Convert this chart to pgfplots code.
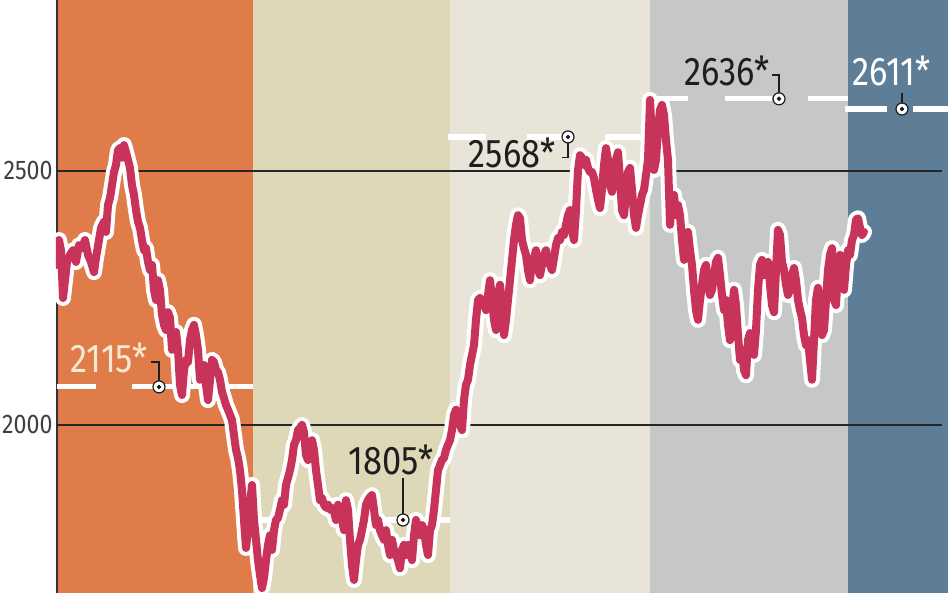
\documentclass[border=0pt]{standalone}
\usepackage{fontspec}
\setmainfont{Fira Sans}[FakeStretch=0.86]
\usepackage{pgfplots}
\usepackage{pgfplotstable}
\pgfplotsset{compat=1.18}
\definecolor{cOrange}{HTML}{E07B4A}
\definecolor{cTan}{HTML}{DED8B9}
\definecolor{cCream}{HTML}{E8E5D8}
\definecolor{cGrey}{HTML}{C5C8C7}
\definecolor{cBlue}{HTML}{5D7E96}
\definecolor{cRed}{HTML}{C8335A}
\definecolor{cLabel}{HTML}{F8E8D0}
\definecolor{cInk}{HTML}{1E1E1E}
\pgfplotstableread{
x v
57 2315
59 2364
61 2344
63 2250
65 2285
67 2321
70 2335
73 2344
76 2321
79 2354
82 2348
85 2364
88 2335
91 2321
94 2301
96 2329
99 2364
101 2388
104 2400
106 2380
108 2433
110 2447
112 2472
114 2498
116 2512
118 2541
120 2545
122 2526
124 2551
126 2537
128 2522
130 2506
132 2472
134 2453
136 2423
138 2400
140 2388
142 2364
144 2344
146 2348
148 2321
150 2305
152 2315
154 2266
156 2246
158 2285
160 2266
162 2217
164 2197
166 2187
168 2222
170 2211
172 2148
174 2167
176 2183
178 2148
180 2079
182 2059
184 2108
186 2128
188 2124
190 2167
192 2187
194 2197
196 2177
198 2148
200 2089
202 2104
204 2118
206 2079
208 2049
210 2089
212 2128
214 2124
216 2108
218 2104
220 2089
222 2065
224 2053
226 2039
228 2030
230 2020
232 2010
234 1980
236 1951
238 1935
240 1911
242 1872
244 1813
246 1758
248 1793
250 1843
252 1882
254 1813
256 1774
258 1734
260 1705
262 1679
264 1699
266 1734
268 1764
270 1783
272 1754
274 1793
276 1813
278 1817
280 1833
282 1852
284 1843
286 1882
288 1896
290 1911
292 1931
294 1961
296 1970
298 1990
300 1994
302 2000
304 1986
306 1941
308 1931
310 1955
312 1970
314 1951
316 1911
318 1882
320 1852
322 1856
324 1843
326 1837
328 1843
330 1833
332 1837
334 1829
336 1813
338 1843
340 1837
342 1813
344 1793
346 1852
348 1833
350 1774
352 1724
354 1695
356 1734
358 1764
360 1774
362 1793
364 1813
366 1843
368 1852
370 1858
372 1862
374 1833
376 1803
378 1813
380 1793
382 1783
384 1774
386 1793
388 1764
390 1744
392 1774
394 1754
396 1744
398 1734
400 1718
402 1754
404 1764
406 1744
408 1764
410 1754
412 1734
414 1783
416 1813
418 1793
420 1783
422 1803
424 1793
426 1764
428 1744
430 1793
432 1803
434 1833
436 1872
438 1911
440 1921
442 1931
444 1935
446 1951
448 1961
450 1970
452 1990
454 2020
456 2030
458 2014
460 2000
462 1990
464 2049
466 2079
468 2089
470 2118
472 2138
474 2157
476 2207
478 2246
480 2250
482 2236
484 2246
486 2226
488 2256
490 2285
492 2246
494 2207
496 2187
498 2256
500 2276
502 2226
504 2177
506 2207
508 2246
510 2285
512 2325
514 2364
516 2394
518 2413
520 2407
522 2364
524 2348
526 2335
528 2305
530 2285
532 2321
534 2329
536 2344
538 2305
540 2295
542 2315
544 2335
546 2344
548 2321
550 2315
552 2305
554 2329
556 2354
558 2368
560 2364
562 2380
564 2374
566 2394
568 2413
570 2423
572 2384
574 2364
576 2423
578 2502
580 2531
582 2526
584 2512
586 2522
588 2506
590 2498
592 2498
594 2486
596 2463
598 2443
600 2427
602 2463
604 2512
606 2545
608 2522
610 2472
612 2459
614 2486
616 2522
618 2537
620 2482
622 2423
624 2413
626 2453
628 2498
630 2506
632 2463
634 2413
636 2388
638 2413
640 2433
642 2453
644 2463
646 2492
648 2522
650 2640
652 2561
654 2502
656 2522
658 2581
660 2620
662 2630
664 2610
666 2561
668 2522
670 2394
672 2443
674 2453
676 2413
678 2433
680 2413
682 2364
684 2325
686 2364
688 2380
690 2344
692 2315
694 2266
696 2226
698 2207
700 2246
702 2276
704 2305
706 2315
708 2276
710 2256
712 2266
714 2295
716 2321
718 2329
720 2295
722 2256
724 2226
726 2246
728 2197
730 2167
732 2226
734 2266
736 2236
738 2177
740 2128
742 2148
744 2108
746 2098
748 2167
750 2181
752 2157
754 2138
756 2187
758 2266
760 2315
762 2325
764 2295
766 2309
768 2321
770 2276
772 2236
774 2222
776 2305
778 2384
780 2374
782 2321
784 2305
786 2276
788 2256
790 2266
792 2295
794 2309
796 2285
798 2246
800 2226
802 2211
804 2177
806 2157
808 2167
810 2128
812 2089
814 2167
816 2246
818 2270
820 2226
822 2177
824 2187
826 2246
828 2305
830 2335
832 2348
834 2246
836 2236
838 2305
840 2335
842 2285
844 2266
846 2315
848 2344
850 2335
852 2364
854 2374
856 2404
858 2407
860 2388
862 2374
864 2380
}\series
\begin{document}
\begin{tikzpicture}
\begin{axis}[
  name=ax,
  scale only axis,
  width=446pt, height=296.5pt,
  xmin=56, xmax=948,
  ymin=1669.3, ymax=2836.6,
  axis line style={draw=none},
  major tick length=0pt,
  xtick=\empty,
  ytick={2000,2500},
  /pgf/number format/1000 sep={},
  /pgf/number format/assume math mode=true,
  yticklabel style={font=\fontsize{13.5}{15}\selectfont, text=black!75, inner sep=0pt, xshift=-1.5pt},
  unbounded coords=jump,
]
% background bands
\addplot[fill=cOrange, draw=none] coordinates {(57,1600) (253,1600) (253,2900) (57,2900)} \closedcycle;
\addplot[fill=cTan, draw=none] coordinates {(253,1600) (450,1600) (450,2900) (253,2900)} \closedcycle;
\addplot[fill=cCream, draw=none] coordinates {(450,1600) (650,1600) (650,2900) (450,2900)} \closedcycle;
\addplot[fill=cGrey, draw=none] coordinates {(650,1600) (848,1600) (848,2900) (650,2900)} \closedcycle;
\addplot[fill=cBlue, draw=none] coordinates {(848,1600) (948,1600) (948,2900) (848,2900)} \closedcycle;
% left axis line
\addplot[black!80, line width=0.7pt] coordinates {(57,1600) (57,2900)};
% grid lines
\addplot[black!85, line width=0.8pt] coordinates {(57,2000) (942,2000)};
\addplot[black!85, line width=0.8pt] coordinates {(57,2500) (942,2500)};
% dashed average lines
\addplot[white, line width=2.6pt] coordinates {(57,2075) (96,2075) (96,nan) (132,2075) (253,2075)};
\addplot[white, line width=2.6pt] coordinates {(253,1813) (285,1813) (285,nan) (328,1813) (397,1813) (397,nan) (410,1813) (450,1813)};
\addplot[white, line width=2.6pt] coordinates {(448,2567) (486,2567) (486,nan) (527,2567) (562,2567) (562,nan) (605,2567) (645,2567)};
\addplot[white, line width=2.6pt] coordinates {(650,2642) (688,2642) (688,nan) (725,2642) (772,2642) (772,nan) (808,2642) (848,2642)};
\addplot[white, line width=2.6pt] coordinates {(845,2622) (887,2622) (887,nan) (913,2622) (948,2622)};
% main series
\addplot[white, line width=8pt, line join=round, line cap=round] table[x=x, y=v] {\series};
\addplot[cRed, line width=4pt, line join=round, line cap=round] table[x=x, y=v] {\series};
% callout lines
\addplot[cInk, line width=0.6pt] coordinates {(151,2124) (159,2124) (159,2075)};
\addplot[cInk, line width=0.6pt] coordinates {(403,1896) (403,1813)};
\addplot[cInk, line width=0.6pt] coordinates {(568,2567) (568,2526) (562,2526)};
\addplot[cInk, line width=0.6pt] coordinates {(772,2689) (779,2689) (779,2642)};
\addplot[cInk, line width=0.6pt] coordinates {(902,2653) (902,2622)};
% markers
\addplot[only marks, mark=*, mark size=3pt, mark options={fill=white, draw=cInk, line width=0.6pt}] coordinates {(159,2075) (403,1813) (568,2567) (779,2642) (902,2622)};
\addplot[only marks, mark=*, mark size=0.9pt, mark options={fill=cInk, draw=cInk}] coordinates {(159,2075) (403,1813) (568,2567) (779,2642) (902,2622)};
% labels
\node[anchor=base east, inner sep=0pt, text=cLabel, font=\fontsize{20}{22}\selectfont] at (axis cs:148,2104) {2115*};
\node[anchor=base west, inner sep=0pt, text=cInk, font=\fontsize{20}{22}\selectfont] at (axis cs:348,1902) {1805*};
\node[anchor=base east, inner sep=0pt, text=cInk, font=\fontsize{20}{22}\selectfont] at (axis cs:556,2506) {2568*};
\node[anchor=base east, inner sep=0pt, text=cInk, font=\fontsize{20}{22}\selectfont] at (axis cs:770,2669) {2636*};
\node[anchor=base west, inner sep=0pt, text=white, font=\fontsize{20}{22}\selectfont] at (axis cs:852,2669) {2611*};
\end{axis}
\pgfresetboundingbox
\path ([xshift=-28pt]ax.south west) rectangle (ax.north east);
\end{tikzpicture}
\end{document}
